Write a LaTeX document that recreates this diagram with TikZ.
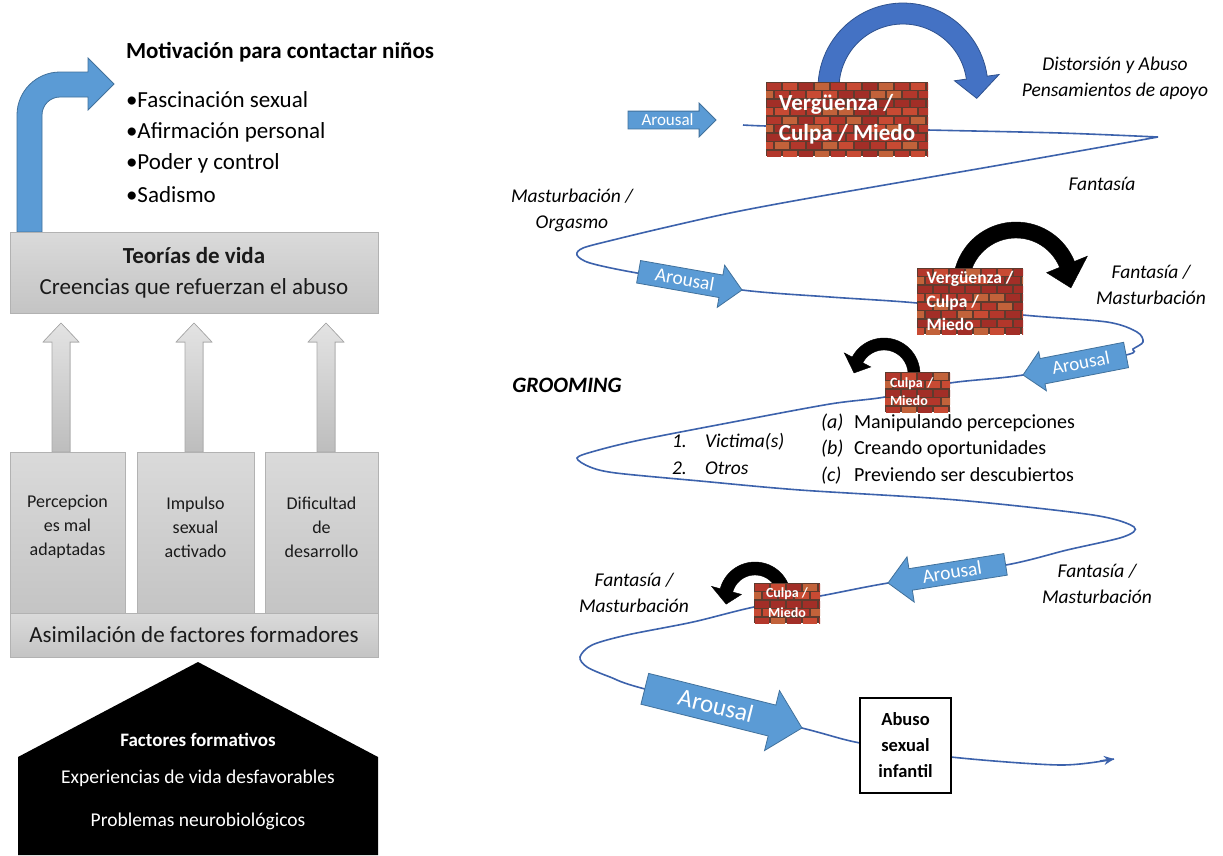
\documentclass[tikz,border=0pt]{standalone}
\usepackage{fontspec}
\setmainfont{Carlito}
\usetikzlibrary{shapes.arrows,arrows.meta}
\definecolor{arrowblue}{HTML}{5B9BD5}
\definecolor{arrowedge}{HTML}{41719C}
\definecolor{royal}{HTML}{4472C4}
\definecolor{royaledge}{HTML}{2F528F}
\definecolor{curveblue}{HTML}{3C62AC}
\definecolor{boxtop}{HTML}{DADADA}
\definecolor{boxbot}{HTML}{C4C4C4}
\definecolor{boxedge}{HTML}{B2B2B2}
\definecolor{greyarrowtop}{HTML}{E3E3E3}
\definecolor{greyarrowbot}{HTML}{BDBDBD}
\definecolor{greyarrowedge}{HTML}{A9A9A9}
\definecolor{mortar}{HTML}{5E3B2E}
\definecolor{brick0}{HTML}{B3372B}
\definecolor{brick1}{HTML}{C2623A}
\definecolor{brick2}{HTML}{A22E27}
\definecolor{brick3}{HTML}{C84A33}
\definecolor{textgrey}{HTML}{1A1A1A}

\newcommand{\fsz}[2]{\fontsize{#1}{#2}\selectfont}
% curved arrow: cx, cy, R, r, start angle, end angle, wing, tip angle, style
\newcommand{\arcarrow}[9]{%
  \filldraw[#9] ({#1+#3*cos(#5)},{#2+10})
   -- plot[domain=#5:#6, samples=50] ({#1+#3*cos(\x)},{#2-#3*sin(\x)})
   -- ({#1+(#3+#7)*cos(#6)},{#2-(#3+#7)*sin(#6)})
   -- ({#1+(#3+#4)/2*cos(#8)},{#2-(#3+#4)/2*sin(#8)})
   -- ({#1+(#4-#7)*cos(#6)},{#2-(#4-#7)*sin(#6)})
   -- plot[domain=#6:#5, samples=50] ({#1+#4*cos(\x)},{#2-#4*sin(\x)})
   -- ({#1+#4*cos(#5)},{#2+10}) -- cycle;}

\tikzset{
  greybox/.style={draw=boxedge, line width=0.8pt, top color=boxtop, bottom color=boxbot, text=textgrey},
  greyup/.style={draw=greyarrowedge, line width=0.6pt, top color=greyarrowtop, bottom color=greyarrowbot},
  bluebent/.style={draw=arrowedge, line width=0.8pt, fill=arrowblue},
  brickwall/.style={fill=mortar, text=white, font=\bfseries,
    path picture={
      \foreach \r in {0,...,10} {
        \foreach \c in {0,...,12} {
          \pgfmathtruncatemacro{\k}{mod(\r*5+\c*3+int(\r*\c/2),4)}
          \fill[brick\k] ([shift={({\c*16-mod(\r,2)*8+0.7},{\r*8.5+0.7})}]path picture bounding box.north west) rectangle ++(14.6,7.1);
        }
      }
    }},
  arousal/.style={single arrow, draw=arrowedge, line width=0.8pt, fill=arrowblue, text=white,
    inner xsep=2pt, inner ysep=0pt, anchor=tip},
  lbl/.style={font=\itshape\fsz{19.5}{26}, align=center},
  curve/.style={draw=curveblue, line width=1.6pt},
  coltext/.style={font=\fsz{18}{24}, align=center, text=textgrey},
  housetext/.style={text=white, font=\fsz{19.5}{24}},
}

\begin{document}
\begin{tikzpicture}[x=1pt,y=-1pt, every node/.style={inner sep=0pt, outer sep=0pt}]
\useasboundingbox (0,0) rectangle (1223,855);
\fill[white] (0,0) rectangle (1223,855);

%================ LEFT PART =================
\filldraw[bluebent] (17,232) [rounded corners=43pt] -- (17,72) [sharp corners] -- (88,72) -- (88,58) -- (114,84) -- (88,110) -- (88,97) [rounded corners=18pt] -- (42,97) [sharp corners] -- (42,232) -- cycle;

\node[anchor=west, font=\bfseries\fsz{23}{23}] (motiv) at (126,52) {Motivación para contactar niños};
\node[anchor=west, font=\fsz{23}{23}] (m1) at (126,100) {•Fascinación sexual};
\node[anchor=west, font=\fsz{23}{23}] (m2) at (126,132) {•Afirmación personal};
\node[anchor=west, font=\fsz{23}{23}] (m3) at (126,163) {•Poder y control};
\node[anchor=west, font=\fsz{23}{23}] (m4) at (126,195) {•Sadismo};

\node[greybox, minimum width=368pt, minimum height=81pt, align=center, font=\fsz{23}{31}] (teorias) at (194,272.5)
  {\textbf{Teorías de vida}\\Creencias que refuerzan el abuso};

\foreach \cx in {61,194,326} {
  \filldraw[greyup] (\cx-9,452) -- (\cx-9,342) -- (\cx-18,342) -- (\cx,323) -- (\cx+18,342) -- (\cx+9,342) -- (\cx+9,452) -- cycle;
}

\node[greybox, minimum width=115pt, minimum height=161pt] (col1) at (67.5,532.5) {};
\node[greybox, minimum width=117pt, minimum height=161pt] (col2) at (195.5,532.5) {};
\node[greybox, minimum width=113pt, minimum height=161pt] (col3) at (321.5,532.5) {};
\node[coltext] (t1) at (67.5,527) {Percepcion\\es mal\\adaptadas};
\node[coltext] (t2) at (195.5,527) {Impulso\\sexual\\activado};
\node[coltext] (t3) at (321.5,527) {Dificultad\\de\\desarrollo};
\node[greybox, minimum width=368pt, minimum height=44pt, font=\fsz{23}{23}] (asim) at (194,635) {Asimilación de factores formadores};

\fill[black] (18,855) -- (18,757) -- (198,662) -- (378,757) -- (378,855) -- cycle;
\node[housetext, font=\bfseries\fsz{19}{24}] (fact) at (198,740) {Factores formativos};
\node[housetext] (exp) at (198,778) {Experiencias de vida desfavorables};
\node[housetext] (neuro) at (198,821) {Problemas neurobiológicos};

%================ RIGHT PART =================
% spiral line
\draw[curve] plot[smooth, tension=0.5] coordinates {(743,125) (766,126) (850,128) (928,130) (1060,133) (1158,137)}
  plot[smooth, tension=0.5] coordinates {(1158,137) (1000,165) (810,198) (730,213) (663,228) (613,240) (583,248) (577,255) (590,263) (637,273) (742,290) (830,297) (917,303) (1023,315) (1107,322) (1137,332) (1143,342) (1133,349) (1126,355) (1023,375) (950,383) (885,397) (830,404) (733,422) (640,440) (595,451) (577,458) (590,467) (616,473) (700,481) (800,490) (957,500) (1093,515) (1134,527) (1123,537) (1067,550) (1006,565) (888,583) (820,596) (754,607) (693,622) (627,635) (592,645) (580,657) (587,667) (610,677) (645,689) (802,728) (860,743) (951,757) (1060,765) (1114,759)};
\draw[curve, -{Stealth[length=10pt,width=9pt]}] (1100,761) -- (1114,759);

% curved arrows
\arcarrow{903}{88}{85}{64}{180}{8}{12}{-8}{fill=royal, draw=royaledge, line width=0.8pt}
\arcarrow{1016}{285}{63}{47}{180}{22}{14}{-3}{fill=black}
\arcarrow{884}{374}{36}{24}{0}{152}{9}{178}{fill=black}
\arcarrow{755}{598}{36}{23}{0}{165}{9}{192}{fill=black}

% brick walls
\node[brickwall, minimum width=162pt, minimum height=74pt, align=left, font=\bfseries\fsz{23}{30}] (wall1) at (847,119) {Vergüenza /\\Culpa / Miedo};
\node[brickwall, minimum width=106pt, minimum height=66pt, align=left, font=\bfseries\fsz{17.5}{23.5}] (wall2) at (970,301) {Vergüenza /\\Culpa /\\Miedo};
\node[brickwall, minimum width=65pt, minimum height=40pt, align=left, text width=55pt, font=\bfseries\fsz{14}{18}] (wall3) at (917.5,392) {Culpa /\\Miedo};
\node[brickwall, minimum width=66pt, minimum height=40pt, align=center, font=\bfseries\fsz{14}{20}] (wall4) at (787,603) {Culpa /\\Miedo};

% arousal arrows
\node[arousal, font=\fsz{17}{17}, text height=13.6pt, text depth=3.4pt, minimum height=88pt, single arrow head extend=8pt] (ar1) at (716,120) {Arousal};
\node[arousal, rotate=-10, font=\fsz{19.5}{19.5}, text height=16.8pt, text depth=5.2pt, minimum height=105pt, single arrow head extend=10pt] (ar2) at (742,290) {Arousal};
\node[arousal, shape border rotate=180, rotate=11, font=\fsz{19}{19}, text height=18.2pt, text depth=6.8pt, minimum height=105pt, single arrow head extend=7pt] (ar3) at (1023,375) {Arousal};
\node[arousal, shape border rotate=180, rotate=9, font=\fsz{19.5}{19.5}, text height=16.4pt, text depth=4.6pt, minimum height=119pt, single arrow head extend=12pt] (ar4) at (888,583) {Arousal};
\node[arousal, rotate=-14, font=\fsz{25}{25}, text height=23pt, text depth=8pt, minimum height=162pt, single arrow head extend=15pt] (ar5) at (802,728) {Arousal};

% final box
\node[draw=black, line width=1.2pt, fill=white, minimum width=91pt, minimum height=95pt, align=center, font=\bfseries\fsz{18.5}{26}] (abuso) at (905.5,745.5) {Abuso\\sexual\\infantil};

% labels
\node[lbl] (dist) at (1115,65) {Distorsión y Abuso};
\node[lbl] (pens) at (1115,91) {Pensamientos de apoyo};
\node[lbl] (fant1) at (1102,184) {Fantasía};
\node[lbl] (mast1) at (572,210) {Masturbación /\\Orgasmo};
\node[lbl] (fant2) at (1151,285) {Fantasía /\\Masturbación};
\node[font=\bfseries\itshape\fsz{22}{22}] (groom) at (567,385) {GROOMING};
\node[anchor=west, font=\fsz{20}{20}] (pa) at (821,423) {\makebox[33pt][l]{\textit{(a)}}Manipulando percepciones};
\node[anchor=west, font=\fsz{20}{20}] (pb) at (821,449) {\makebox[33pt][l]{\textit{(b)}}Creando oportunidades};
\node[anchor=west, font=\fsz{20}{20}] (pc) at (821,476) {\makebox[33pt][l]{\textit{(c)}}Previendo ser descubiertos};
\node[anchor=west, font=\itshape\fsz{19.5}{19.5}] (v1) at (672,442) {\makebox[33pt][l]{1.}Victima(s)};
\node[anchor=west, font=\itshape\fsz{19.5}{19.5}] (v2) at (672,468) {\makebox[33pt][l]{2.}Otros};
\node[lbl] (fant3) at (1097,583.5) {Fantasía /\\Masturbación};
\node[lbl] (fant4) at (634,592.5) {Fantasía /\\Masturbación};
\end{tikzpicture}
\end{document}
